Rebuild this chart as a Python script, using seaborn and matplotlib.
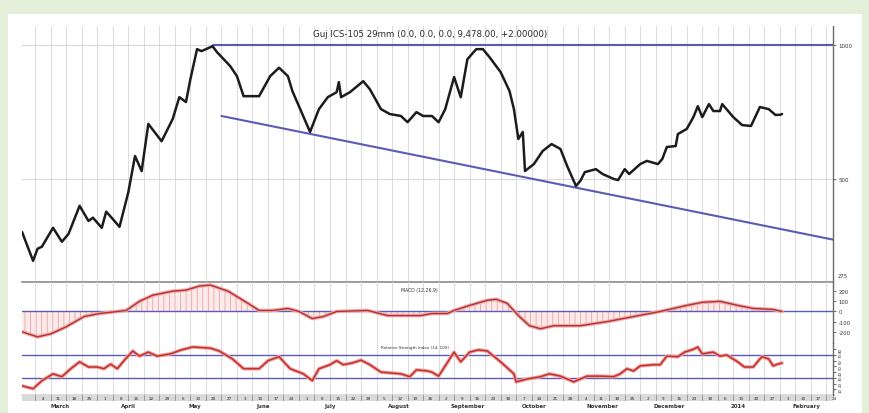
import numpy as np
import pandas as pd
import matplotlib
matplotlib.use("Agg")
import matplotlib.pyplot as plt
import seaborn as sns
from matplotlib.patches import Rectangle

# ---------------- data ----------------
START = "2013-02-26"   # day 0 of the x axis
X_END = 366

price_day = [0, 5, 7, 9, 14, 18, 21, 26, 30, 32, 36, 38, 41, 44, 48, 51, 54, 57, 63, 68,
             71, 74, 76, 79, 81, 83, 86, 88, 94, 97, 100, 107, 112, 116, 120, 122, 130, 134, 138, 142,
             143, 144, 148, 154, 157, 162, 166, 171, 174, 178, 181, 185, 188, 191, 195, 198, 201, 205, 208, 211,
             216, 220, 222, 224, 226, 227, 231, 235, 239, 243, 246, 250, 252, 254, 259, 262, 267, 269, 272, 274,
             279, 282, 287, 289, 291, 295, 296, 300, 303, 305, 307, 310, 312, 315, 316, 321, 325, 329, 333, 337,
             340, 342, 343]
price_val = [380, 327, 348, 352, 388, 361, 376, 435, 402, 409, 388, 422, 406, 390, 467, 563, 521, 665, 608, 682,
             764, 745, 839, 980, 970, 980, 995, 965, 897, 852, 768, 768, 852, 890, 852, 789, 638, 718, 764, 784,
             826, 764, 784, 830, 796, 718, 700, 693, 671, 707, 693, 693, 671, 718, 848, 764, 930, 980, 980, 940,
             870, 789, 718, 615, 638, 521, 540, 578, 599, 584, 535, 482, 495, 518, 526, 513, 500, 497, 526, 513,
             540, 549, 540, 555, 590, 593, 631, 648, 689, 729, 689, 737, 711, 711, 737, 689, 661, 658, 726, 718,
             697, 697, 700]

trend_top_day = [86, 366]
trend_top_val = [1000, 1000]
trend_low_day = [90, 366]
trend_low_val = [693, 365]

macd_day = [0, 7, 13, 20, 28, 35, 43, 47, 53, 59, 68, 74, 80, 85, 93, 102, 107, 113, 120, 125,
            131, 136, 142, 156, 165, 174, 180, 185, 192, 195, 202, 210, 214, 219, 224, 229, 234, 240, 252, 264,
            276, 288, 300, 307, 315, 323, 330, 339, 343]
macd_val = [-200, -250, -220, -150, -50, -20, 0, 10, 100, 160, 200, 210, 250, 260, 200, 80, 10, 10, 30, 0,
            -70, -50, 0, 10, -40, -40, -40, -20, -20, 10, 60, 110, 120, 80, -40, -140, -170, -140, -140, -100,
            -50, 0, 60, 90, 100, 60, 30, 20, 0]

rsi_day = [0, 5, 9, 14, 18, 22, 26, 30, 34, 37, 40, 43, 46, 50, 53, 57, 61, 67, 72, 77,
           85, 89, 95, 100, 107, 111, 116, 121, 127, 131, 134, 139, 142, 145, 149, 153, 157, 162, 171, 175,
           178, 183, 185, 188, 195, 198, 202, 206, 210, 216, 222, 223, 228, 234, 238, 243, 249, 255, 261, 267,
           270, 273, 276, 279, 285, 288, 291, 296, 299, 303, 305, 307, 312, 315, 318, 323, 326, 330, 333, 334,
           337, 339, 341, 343]
rsi_val = [16, 11, 25, 37, 32, 46, 58, 49, 49, 46, 54, 46, 60, 77, 68, 75, 68, 72, 79, 84,
           82, 77, 63, 46, 46, 60, 67, 46, 37, 25, 46, 53, 60, 53, 56, 61, 53, 40, 37, 32,
           44, 42, 40, 33, 75, 58, 75, 79, 77, 58, 37, 23, 28, 32, 37, 33, 23, 33, 33, 32,
           37, 46, 42, 51, 53, 53, 68, 67, 75, 80, 84, 72, 75, 68, 70, 58, 49, 49, 63, 67,
           63, 51, 54, 56]

price_ticks = [1000, 500]
macd_ticks = [200, 100, 0, -100, -200]
rsi_ticks = [80, 70, 60, 50, 40, 30, 20, 10]
rsi_bands = [70, 30]
month_names = ["March", "April", "May", "June", "July", "August", "September",
               "October", "November", "December", "2014", "February"]
title = "Guj ICS-105 29mm (0.0, 0.0, 0.0, 9,478.00, +2.00000)"

# ---------------- figure ----------------
sns.set_theme(style="white")
plt.rcParams['font.family'] = ['DejaVu Sans']
plt.rcParams['hatch.linewidth'] = 0.6

W, H = 870, 414
fig = plt.figure(figsize=(W / 100, H / 100), dpi=100)
fig.patch.set_facecolor('#e4efd9')
fig.patches.append(Rectangle((8 / W, 0), (862 - 8) / W, (H - 15) / H, transform=fig.transFigure,
                             facecolor='white', edgecolor='none', zorder=-5))

def ax_at(x0, y0, x1, y1):
    a = fig.add_axes([x0 / W, 1 - y1 / H, (x1 - x0) / W, (y1 - y0) / H])
    a.set_facecolor('none')
    return a

start = pd.Timestamp(START)
mondays = pd.date_range("2013-03-04", "2014-02-24", freq="7D")
monday_days = [(d - start).days for d in mondays]
month_starts = pd.date_range("2013-03-01", "2014-02-01", freq="MS")
month_days = [(d - start).days for d in month_starts]

GRID = '#dedede'
BLUE = '#5b5bb4'
AXC = '#6a6a6a'

def base(a):
    a.set_xlim(0, X_END)
    a.set_xticks(monday_days)
    a.tick_params(axis='x', bottom=False, labelbottom=False)
    a.grid(axis='x', color=GRID, lw=0.8)
    a.yaxis.tick_right()
    a.tick_params(axis='y', right=True, left=False, length=2, width=0.6, pad=2,
                  colors='#555555', labelcolor='#333333')
    for s in ['left', 'top', 'bottom']:
        a.spines[s].set_visible(False)
    a.spines['right'].set_color(AXC)
    a.spines['right'].set_linewidth(1.0)

# ---- price panel ----
axp = ax_at(22, 27, 833, 283)
base(axp)
axp.set_yscale('log')
axp.set_ylim(293, 1105)
axp.set_yticks(price_ticks)
axp.set_yticklabels([str(v) for v in price_ticks], fontsize=4)
axp.yaxis.set_minor_locator(matplotlib.ticker.NullLocator())
axp.grid(axis='y', color='#d8d8d8', lw=0.8)
axp.spines['bottom'].set_visible(True)
axp.spines['bottom'].set_color('#8a8a8a')
axp.spines['bottom'].set_linewidth(1.2)
sns.lineplot(x=trend_top_day, y=trend_top_val, ax=axp, color=BLUE, lw=1.5, estimator=None)
sns.lineplot(x=trend_low_day, y=trend_low_val, ax=axp, color=BLUE, lw=1.5, estimator=None)
sns.lineplot(x=price_day, y=price_val, ax=axp, color='#1c1c1c', lw=1.8, estimator=None, sort=False)
axp.set_xlabel(''); axp.set_ylabel('')
axp.text(0.503, 0.972, title, transform=axp.transAxes, ha='center', va='center',
         fontsize=6.2, color='#2a2a2a')
axp.text(1.006, 0.025, "275", transform=axp.transAxes, ha='left', va='center',
         fontsize=3.8, color='#333333')

# ---- MACD panel ----
axm = ax_at(22, 283, 833, 344)
base(axm)
axm.set_ylim(-310, 290)
axm.set_yticks(macd_ticks)
axm.set_yticklabels([str(v) for v in macd_ticks], fontsize=3.8)
axm.fill_between(macd_day, 0, macd_val, facecolor='#fdeaea', edgecolor='#eaa3a3',
                 hatch='|||', lw=0)
axm.axhline(0, color=BLUE, lw=1.0)
sns.lineplot(x=macd_day, y=macd_val, ax=axm, color='#f2a8a8', lw=2.6, estimator=None)
sns.lineplot(x=macd_day, y=macd_val, ax=axm, color='#b03232', lw=1.0, estimator=None)
axm.set_xlabel(''); axm.set_ylabel('')
axm.text(0.49, 0.885, "MACD (12,26,9)", transform=axm.transAxes, ha='center', va='center',
         fontsize=3.3, color='#333333')

# ---- RSI panel ----
axr = ax_at(22, 344, 833, 396)
base(axr)
axr.set_ylim(0, 91)
axr.set_yticks(rsi_ticks)
axr.set_yticklabels([str(v) for v in rsi_ticks], fontsize=2.8, rotation=90, va='center')
for b in rsi_bands:
    axr.axhline(b, color=BLUE, lw=1.0)
sns.lineplot(x=rsi_day, y=rsi_val, ax=axr, color='#f2a0a0', lw=2.6, estimator=None)
sns.lineplot(x=rsi_day, y=rsi_val, ax=axr, color='#c0302c', lw=1.1, estimator=None)
axr.set_xlabel(''); axr.set_ylabel('')
axr.text(0.485, 0.93, "Relative Strength Index (14, 100)", transform=axr.transAxes,
         ha='center', va='center', fontsize=3.0, color='#333333')
axr.spines['bottom'].set_visible(True)
axr.spines['bottom'].set_color('#555555')
axr.spines['bottom'].set_linewidth(1.0)

# ---- date strip ----
axs = ax_at(22, 396, 833, 402)
axs.set_xlim(0, X_END)
axs.set_ylim(0, 1)
axs.set_facecolor('#d9d9d9')
axs.set_xticks([]); axs.set_yticks([])
for s in axs.spines.values():
    s.set_visible(False)
for d, ts in zip(monday_days, mondays):
    axs.axvline(d, color='#8c8c8c', lw=0.6)
    axs.text(d + 3.5, 0.5, str(ts.day), ha='center', va='center', fontsize=3.0, color='#222222')
for d, name in zip(month_days, month_names):
    fig.text((22 + (d + 14) * 811 / X_END) / W, 1 - 407 / H, name, ha='center', va='center',
             fontsize=4.0, color='#333333', fontweight='bold')

fig.savefig("out.png", dpi=100, facecolor=fig.get_facecolor())
